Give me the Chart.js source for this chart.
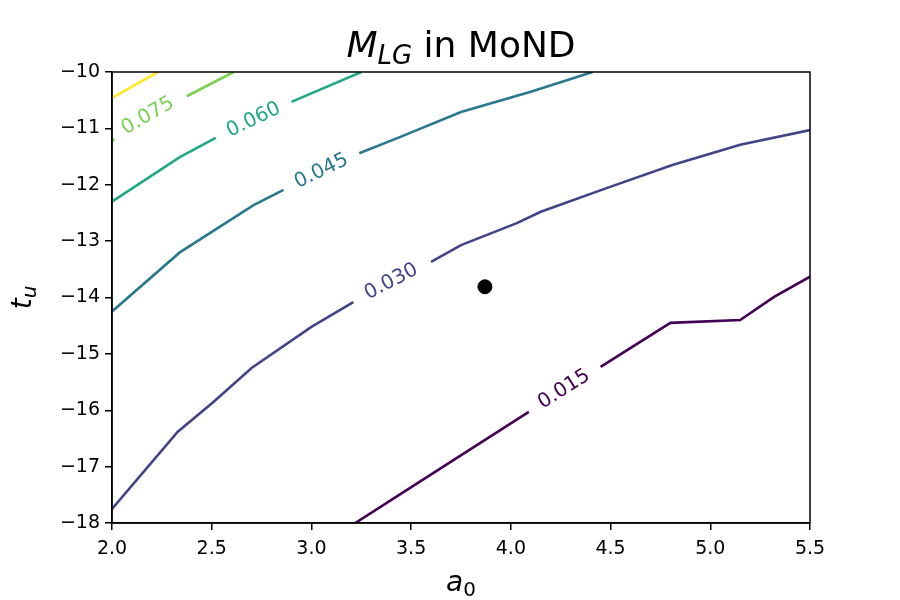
<!DOCTYPE html>
<html>
<head>
<meta charset="utf-8">
<script src="https://cdn.jsdelivr.net/npm/chart.js@4.4.0/dist/chart.umd.min.js"></script>
<style>
  body { margin: 0; background: #fff; }
  #wrap { width: 900px; height: 600px; }
</style>
</head>
<body>
<div id="wrap"><canvas id="myChart" width="900" height="600"></canvas></div>
<script>
// contour levels and their colours (viridis)
var levels = ['0.015', '0.030', '0.045', '0.060', '0.075', '0.090'];
var levelColors = ['#440154', '#414487', '#2a788e', '#22a884', '#7ad151', '#fde725'];

// each contour is split in two pieces around its inline label
var c015aX = [3.22, 3.44, 4.09];
var c015aY = [-18.0, -17.5, -16.03];
var c015bX = [4.45, 4.80, 5.15, 5.32, 5.5];
var c015bY = [-15.23, -14.45, -14.40, -13.99, -13.63];

var c030aX = [2.0, 2.33, 2.51, 2.70, 3.00, 3.21];
var c030aY = [-17.75, -16.38, -15.85, -15.25, -14.52, -14.08];
var c030bX = [3.60, 3.75, 4.03, 4.15, 4.48, 4.81, 5.15, 5.5];
var c030bY = [-13.37, -13.07, -12.68, -12.48, -12.06, -11.65, -11.29, -11.03];

var c045aX = [2.0, 2.34, 2.71, 2.86];
var c045aY = [-14.25, -13.2, -12.36, -12.09];
var c045bX = [3.24, 3.44, 3.75, 4.10, 4.41];
var c045bY = [-11.44, -11.16, -10.71, -10.35, -10.0];

var c060aX = [2.0, 2.34, 2.52];
var c060aY = [-12.30, -11.51, -11.17];
var c060bX = [2.90, 3.25];
var c060bY = [-10.53, -10.0];

var c075aX = [2.0, 2.01];
var c075aY = [-11.24, -11.18];
var c075bX = [2.375, 2.61];
var c075bY = [-10.43, -10.0];

var c090X = [2.0, 2.23];
var c090Y = [-10.46, -10.0];

// the black marker
var markX = [3.87];
var markY = [-13.81];

// inline contour labels
var labelText = ['0.015', '0.030', '0.045', '0.060', '0.075'];
var labelX = [4.267, 3.40, 3.05, 2.71, 2.18];
var labelY = [-15.63, -13.72, -11.76, -10.85, -10.78];

var xTicks = [2.0, 2.5, 3.0, 3.5, 4.0, 4.5, 5.0, 5.5];
var yTicks = [-18, -17, -16, -15, -14, -13, -12, -11, -10];

function pts(xs, ys) {
    var out = [];
    for (var i = 0; i < xs.length; i++) out.push({x: xs[i], y: ys[i]});
    return out;
}

var pieces = [
    [0, c015aX, c015aY], [0, c015bX, c015bY],
    [1, c030aX, c030aY], [1, c030bX, c030bY],
    [2, c045aX, c045aY], [2, c045bX, c045bY],
    [3, c060aX, c060aY], [3, c060bX, c060bY],
    [4, c075aX, c075aY], [4, c075bX, c075bY],
    [5, c090X, c090Y]
];

var datasets = pieces.map(function (p) {
    return {
        data: pts(p[1], p[2]),
        showLine: true,
        borderColor: levelColors[p[0]],
        borderWidth: 2.6,
        pointRadius: 0,
        fill: false
    };
});
datasets.push({
    data: pts(markX, markY),
    showLine: false,
    pointRadius: 7,
    pointBackgroundColor: '#000',
    pointBorderColor: '#000'
});

// gap endpoints give the label angle
var gapPieces = [
    [c015aX, c015aY, c015bX, c015bY],
    [c030aX, c030aY, c030bX, c030bY],
    [c045aX, c045aY, c045bX, c045bY],
    [c060aX, c060aY, c060bX, c060bY],
    [c075aX, c075aY, c075bX, c075bY]
];

var decorPlugin = {
    id: 'decor',
    afterDraw: function (chart) {
        var ctx = chart.ctx;
        var a = chart.chartArea;
        var sx = chart.scales.x, sy = chart.scales.y;
        ctx.save();

        // spines
        ctx.strokeStyle = '#000';
        ctx.lineWidth = 1.5;
        ctx.strokeRect(a.left, a.top, a.right - a.left, a.bottom - a.top);

        // contour labels
        ctx.font = '20px "DejaVu Sans"';
        ctx.textAlign = 'center';
        ctx.textBaseline = 'middle';
        for (var i = 0; i < labelText.length; i++) {
            var g = gapPieces[i];
            var x1 = sx.getPixelForValue(g[0][g[0].length - 1]);
            var y1 = sy.getPixelForValue(g[1][g[1].length - 1]);
            var x2 = sx.getPixelForValue(g[2][0]);
            var y2 = sy.getPixelForValue(g[3][0]);
            var ang = Math.atan2(y2 - y1, x2 - x1);
            ctx.save();
            ctx.translate(sx.getPixelForValue(labelX[i]), sy.getPixelForValue(labelY[i]));
            ctx.rotate(ang);
            ctx.fillStyle = levelColors[i];
            ctx.fillText(labelText[i], 0, 0);
            ctx.restore();
        }

        // title: M_LG in MoND
        var cx = (a.left + a.right) / 2;
        var base = 57;
        var big = 'italic 36px "DejaVu Sans"';
        var sub = 'italic 26px "DejaVu Sans"';
        var reg = '36px "DejaVu Sans"';
        ctx.textAlign = 'left';
        ctx.textBaseline = 'alphabetic';
        ctx.fillStyle = '#000';
        ctx.font = big; var w1 = ctx.measureText('M').width;
        ctx.font = sub; var w2 = ctx.measureText('LG').width;
        ctx.font = reg; var w3 = ctx.measureText(' in MoND').width;
        var x0 = cx - (w1 + w2 + w3) / 2;
        ctx.font = big; ctx.fillText('M', x0, base);
        ctx.font = sub; ctx.fillText('LG', x0 + w1, base + 7);
        ctx.font = reg; ctx.fillText(' in MoND', x0 + w1 + w2, base);

        // x label: a_0
        ctx.font = 'italic 28px "DejaVu Sans"'; var wa = ctx.measureText('a').width;
        ctx.font = '20px "DejaVu Sans"'; var w0 = ctx.measureText('0').width;
        var xa = cx - (wa + w0) / 2;
        ctx.font = 'italic 28px "DejaVu Sans"'; ctx.fillText('a', xa, 591);
        ctx.font = '20px "DejaVu Sans"'; ctx.fillText('0', xa + wa, 596);

        // y label: t_u
        ctx.save();
        ctx.translate(31, (a.top + a.bottom) / 2);
        ctx.rotate(-Math.PI / 2);
        ctx.font = 'italic 28px "DejaVu Sans"'; var wt = ctx.measureText('t').width;
        ctx.font = 'italic 20px "DejaVu Sans"'; var wu = ctx.measureText('u').width;
        var xt = -(wt + wu) / 2;
        ctx.font = 'italic 28px "DejaVu Sans"'; ctx.fillText('t', xt, 0);
        ctx.font = 'italic 20px "DejaVu Sans"'; ctx.fillText('u', xt + wt, 5);
        ctx.restore();

        ctx.restore();
    }
};

var ctx = document.getElementById('myChart').getContext('2d');
var myChart = new Chart(ctx, {
    type: 'scatter',
    data: { datasets: datasets },
    options: {
        responsive: false,
        animation: false,
        layout: { padding: { top: 72, right: 90, left: 0, bottom: 0 } },
        plugins: { legend: { display: false }, tooltip: { enabled: false }, title: { display: false } },
        scales: {
            x: {
                type: 'linear', min: 2.0, max: 5.5,
                afterFit: function (s) { s.height = 77; },
                afterBuildTicks: function (s) { s.ticks = xTicks.map(function (v) { return {value: v}; }); },
                grid: { drawOnChartArea: false, drawTicks: true, tickLength: 7, color: '#000', lineWidth: 1.5 },
                border: { display: true, color: '#000', width: 1.5 },
                ticks: {
                    color: '#000', padding: 8, maxRotation: 0,
                    font: { family: 'DejaVu Sans', size: 19 },
                    callback: function (v) { return Number(v).toFixed(1); }
                }
            },
            y: {
                type: 'linear', min: -18, max: -10,
                afterFit: function (s) { s.width = 112; },
                afterBuildTicks: function (s) { s.ticks = yTicks.map(function (v) { return {value: v}; }); },
                grid: { drawOnChartArea: false, drawTicks: true, tickLength: 7, color: '#000', lineWidth: 1.5 },
                border: { display: true, color: '#000', width: 1.5 },
                ticks: {
                    color: '#000', padding: 5,
                    font: { family: 'DejaVu Sans', size: 19 },
                    callback: function (v) { return String(v).replace('-', '\u2212'); }
                }
            }
        }
    },
    plugins: [decorPlugin]
});
</script>
</body>
</html>
